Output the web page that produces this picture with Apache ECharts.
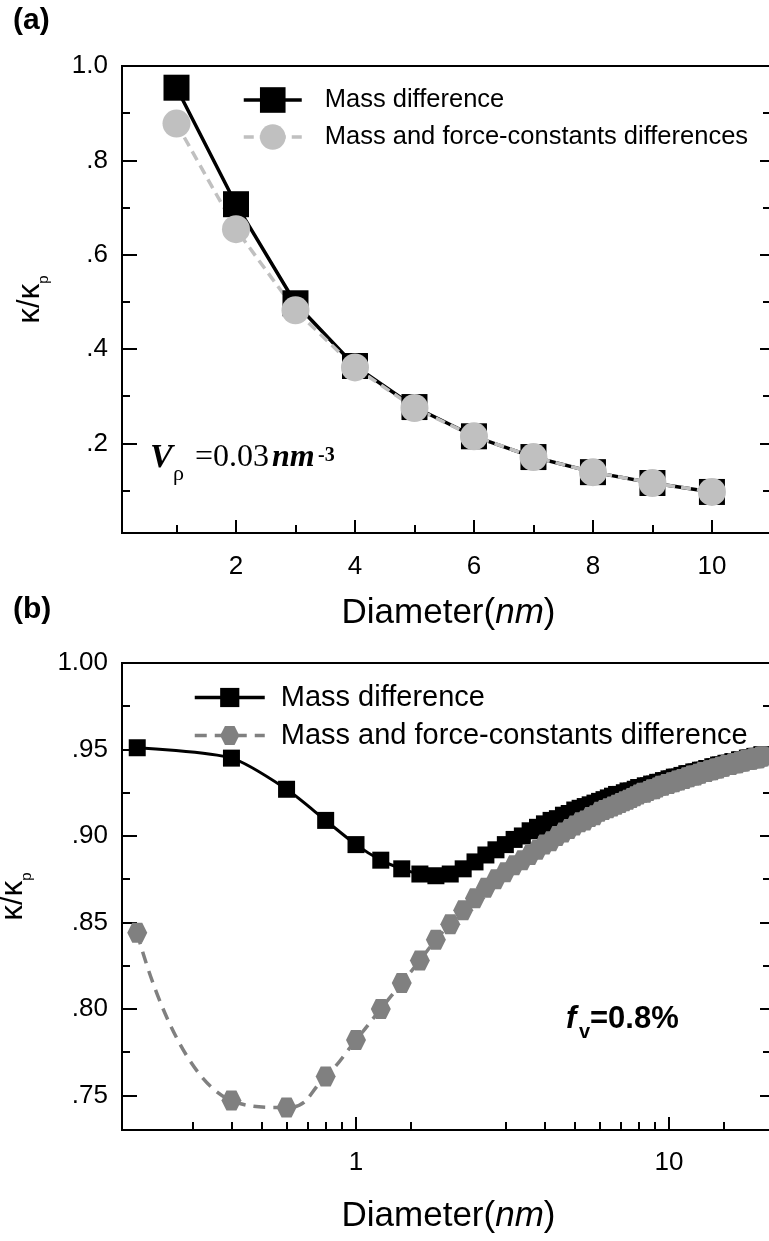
<!DOCTYPE html>
<html>
<head>
<meta charset="utf-8">
<script src="https://cdn.jsdelivr.net/npm/echarts@6/dist/echarts.min.js"></script>
<style>
  html, body { margin: 0; padding: 0; background: #fff; }
  #chart { width: 769px; height: 1241px; }
</style>
</head>
<body>
<div id="chart"></div>
<script>
// ---- panel (a): linear diameter axis ----
const diamA = [1, 2, 3, 4, 5, 6, 7, 8, 9, 10];
const massA = [0.954, 0.707, 0.497, 0.364, 0.277, 0.215, 0.171, 0.139, 0.116, 0.097];
const massForceA = [0.878, 0.654, 0.482, 0.361, 0.275, 0.215, 0.171, 0.139, 0.116, 0.097];
const xMajorA = [2, 4, 6, 8, 10];
const xMinorA = [1, 3, 5, 7, 9];
const yMajorA = [0.2, 0.4, 0.6, 0.8, 1.0];
const yMinorA = [0.1, 0.3, 0.5, 0.7, 0.9];

// ---- panel (b): log diameter axis ----
const diamB = [
  0.2, 0.4, 0.6, 0.8, 1.0, 1.2, 1.4, 1.6, 1.8, 2.0,
  2.2, 2.4, 2.6, 2.8, 3.0, 3.2, 3.4, 3.6, 3.8, 4.0,
  4.2, 4.4, 4.6, 4.8, 5.0, 5.2, 5.4, 5.6, 5.8, 6.0,
  6.2, 6.4, 6.6, 6.8, 7.0, 7.2, 7.4, 7.6, 7.8, 8.0,
  8.2, 8.4, 8.6, 8.8, 9.0, 9.2, 9.4, 9.6, 9.8, 10.0,
  10.2, 10.4, 10.6, 10.8, 11.0, 11.2, 11.4, 11.6, 11.8, 12.0,
  12.2, 12.4, 12.6, 12.8, 13.0, 13.2, 13.4, 13.6, 13.8, 14.0,
  14.2, 14.4, 14.6, 14.8, 15.0, 15.2, 15.4, 15.6, 15.8, 16.0,
  16.2, 16.4, 16.6, 16.8, 17.0, 17.2, 17.4, 17.6, 17.8, 18.0,
  18.2, 18.4, 18.6, 18.8, 19.0, 19.2, 19.4, 19.6, 19.8, 20.0
];
const massB = [
  0.951, 0.945, 0.927, 0.909, 0.895, 0.886, 0.881, 0.878, 0.877, 0.878,
  0.881, 0.885, 0.889, 0.892, 0.895, 0.898, 0.900, 0.903, 0.905, 0.907,
  0.909, 0.910, 0.912, 0.913, 0.915, 0.916, 0.917, 0.918, 0.919, 0.920,
  0.921, 0.922, 0.923, 0.924, 0.924, 0.925, 0.926, 0.926, 0.927, 0.928,
  0.928, 0.929, 0.929, 0.930, 0.930, 0.931, 0.931, 0.932, 0.932, 0.933,
  0.933, 0.934, 0.934, 0.934, 0.935, 0.935, 0.936, 0.936, 0.936, 0.937,
  0.937, 0.937, 0.938, 0.938, 0.938, 0.939, 0.939, 0.939, 0.940, 0.940,
  0.940, 0.941, 0.941, 0.941, 0.941, 0.942, 0.942, 0.942, 0.942, 0.943,
  0.943, 0.943, 0.943, 0.944, 0.944, 0.944, 0.944, 0.944, 0.945, 0.945,
  0.945, 0.945, 0.945, 0.946, 0.946, 0.946, 0.946, 0.946, 0.947, 0.947
];
const massForceB = [
  0.844, 0.747, 0.743, 0.761, 0.782, 0.800, 0.815, 0.828, 0.840, 0.849,
  0.857, 0.864, 0.870, 0.875, 0.879, 0.883, 0.886, 0.889, 0.892, 0.895,
  0.897, 0.900, 0.902, 0.904, 0.906, 0.908, 0.909, 0.911, 0.912, 0.914,
  0.915, 0.916, 0.917, 0.918, 0.919, 0.920, 0.921, 0.922, 0.923, 0.924,
  0.925, 0.925, 0.926, 0.927, 0.927, 0.928, 0.929, 0.929, 0.930, 0.930,
  0.931, 0.931, 0.932, 0.932, 0.933, 0.933, 0.934, 0.934, 0.935, 0.935,
  0.935, 0.936, 0.936, 0.937, 0.937, 0.937, 0.938, 0.938, 0.938, 0.939,
  0.939, 0.939, 0.940, 0.940, 0.940, 0.941, 0.941, 0.941, 0.941, 0.942,
  0.942, 0.942, 0.942, 0.943, 0.943, 0.943, 0.943, 0.944, 0.944, 0.944,
  0.944, 0.944, 0.945, 0.945, 0.945, 0.945, 0.945, 0.946, 0.946, 0.946
];
const xMajorB = [1, 10];
const xMinorB = [0.3, 0.4, 0.5, 0.6, 0.7, 0.8, 0.9, 1.5, 3, 4, 5, 6, 7, 8, 9, 15];
const yMajorB = [0.75, 0.80, 0.85, 0.90, 0.95, 1.00];
const yMinorB = [0.775, 0.825, 0.875, 0.925, 0.975];

const FONT = "'Liberation Sans', Arial, sans-serif";
const SERIF = "'Liberation Serif', 'Times New Roman', serif";
const HEX = 'path://M-10,0L-5,-8.66L5,-8.66L10,0L5,8.66L-5,8.66Z';

const chart = echarts.init(document.getElementById('chart'), null, { renderer: 'canvas' });

// axis carrying the line and the tick labels (no ticks)
const labelAxis = (base, values, labelOpt) => Object.assign({
  splitLine: { show: false },
  axisLine: { show: true, onZero: false, lineStyle: { color: '#000', width: 2 } },
  axisTick: { show: false },
  axisLabel: Object.assign({
    show: true, customValues: values, color: '#000', fontFamily: FONT, fontSize: 26
  }, labelOpt)
}, base);

// invisible overlay axis that only draws inward ticks
const tickAxis = (base, values, len) => Object.assign({
  splitLine: { show: false },
  axisLine: { show: false, onZero: false },
  axisLabel: { show: false },
  axisTick: { show: true, inside: true, length: len, customValues: values, lineStyle: { color: '#000', width: 2 } }
}, base);

const fmtA = (v) => v >= 1 ? '1.0' : v.toFixed(1).replace(/^0/, '');
const fmtB = (v) => v >= 1 ? '1.00' : v.toFixed(2).replace(/^0/, '');

const xA = { type: 'value', gridIndex: 0, position: 'bottom', min: 0.084, max: 11.06 };
const xB = { type: 'log', gridIndex: 1, position: 'bottom', min: 0.1788, max: 21.81 };
const yA = { type: 'value', gridIndex: 0, min: 0.01, max: 1.0 };
const yB = { type: 'value', gridIndex: 1, min: 0.73, max: 1.0 };
const at = (base, extra) => Object.assign({}, base, extra);

const xName = (gap) => ({
  name: 'Diameter({i|nm})',
  nameLocation: 'middle',
  nameGap: gap,
  nameTextStyle: {
    color: '#000', fontFamily: FONT, fontSize: 35,
    rich: { i: { fontStyle: 'italic', fontFamily: FONT, fontSize: 35, color: '#000' } }
  }
});
const yName = (gap) => ({
  name: '{k|κ/κ}{p|p}',
  nameLocation: 'middle',
  nameRotate: 90,
  nameGap: gap,
  nameTextStyle: {
    rich: {
      k: { fontFamily: FONT, fontSize: 31, color: '#000', lineHeight: 34 },
      p: { fontFamily: FONT, fontSize: 15, color: '#000', verticalAlign: 'bottom', lineHeight: 34, padding: [0, 0, -4, 0] }
    }
  }
});

const gridBase = { left: 122, width: 653, height: 467, show: true, borderColor: '#000', borderWidth: 2, outerBoundsMode: 'none', containLabel: false };

const option = {
  animation: false,
  backgroundColor: '#fff',
  grid: [
    Object.assign({ top: 66 }, gridBase),
    Object.assign({ top: 663 }, gridBase)
  ],
  xAxis: [
    labelAxis(at(xA, xName(63)), xMajorA, { margin: 21 }),
    tickAxis(at(xA), xMajorA, 13),
    tickAxis(at(xA), xMinorA, 8),
    labelAxis(at(xB, xName(69)), xMajorB, { margin: 20 }),
    tickAxis(at(xB), xMajorB, 13),
    tickAxis(at(xB), xMinorB, 8)
  ],
  yAxis: [
    labelAxis(at(yA, Object.assign({ position: 'left' }, yName(75))), yMajorA, { margin: 14, formatter: fmtA }),
    tickAxis(at(yA, { position: 'left' }), yMajorA, 15),
    tickAxis(at(yA, { position: 'left' }), yMinorA, 8),
    tickAxis(at(yA, { position: 'right' }), yMajorA, 15),
    tickAxis(at(yA, { position: 'right' }), yMinorA, 12),
    labelAxis(at(yB, Object.assign({ position: 'left' }, yName(92))), yMajorB, { margin: 14, formatter: fmtB }),
    tickAxis(at(yB, { position: 'left' }), yMajorB, 15),
    tickAxis(at(yB, { position: 'left' }), yMinorB, 8),
    tickAxis(at(yB, { position: 'right' }), yMajorB, 15),
    tickAxis(at(yB, { position: 'right' }), yMinorB, 12)
  ],
  legend: [
    {
      orient: 'vertical', left: 242, top: 84, padding: 0, itemWidth: 58, itemHeight: 32, itemGap: 5,
      selectedMode: false,
      data: ['Mass difference', 'Mass and force-constants differences'],
      formatter: (n) => n.split('#')[0],
      lineStyle: { width: 3.5 },
      textStyle: { color: '#000', fontFamily: FONT, fontSize: 25.5, lineHeight: 32, padding: [0, 0, 0, 18] }
    },
    {
      orient: 'vertical', left: 193, top: 683, padding: 0, itemWidth: 70, itemHeight: 24, itemGap: 9,
      selectedMode: false,
      data: ['Mass difference#b', 'Mass and force-constants difference#b'],
      formatter: (n) => n.split('#')[0],
      lineStyle: { width: 3.5 },
      textStyle: { color: '#000', fontFamily: FONT, fontSize: 29, lineHeight: 24, padding: [0, 0, 0, 11] }
    }
  ],
  series: [
    {
      name: 'Mass difference', type: 'line', xAxisIndex: 0, yAxisIndex: 0,
      data: diamA.map((d, i) => [d, massA[i]]),
      symbol: 'rect', symbolSize: 26,
      itemStyle: { color: '#000' },
      lineStyle: { color: '#000', width: 3.5 }
    },
    {
      name: 'Mass and force-constants differences', type: 'line', xAxisIndex: 0, yAxisIndex: 0,
      data: diamA.map((d, i) => [d, massForceA[i]]),
      symbol: 'circle', symbolSize: 28,
      itemStyle: { color: '#c0c0c0' },
      lineStyle: { color: '#c0c0c0', width: 3.5, type: [10, 6] }
    },
    {
      name: 'Mass difference#b', type: 'line', xAxisIndex: 3, yAxisIndex: 5,
      data: diamB.map((d, i) => [d, massB[i]]),
      symbol: 'rect', symbolSize: 17, smooth: 0.25,
      itemStyle: { color: '#000' },
      lineStyle: { color: '#000', width: 3 }
    },
    {
      name: 'Mass and force-constants difference#b', type: 'line', xAxisIndex: 3, yAxisIndex: 5,
      data: diamB.map((d, i) => [d, massForceB[i]]),
      symbol: HEX, symbolSize: 20, smooth: 0.5,
      itemStyle: { color: '#808080' },
      lineStyle: { color: '#808080', width: 3.5, type: [12, 8] }
    }
  ],
  graphic: [
    { type: 'text', x: 13, y: 21, style: { text: '(a)', fontFamily: FONT, fontWeight: 'bold', fontSize: 30, fill: '#000', verticalAlign: 'middle' } },
    { type: 'text', x: 13, y: 610, style: { text: '(b)', fontFamily: FONT, fontWeight: 'bold', fontSize: 30, fill: '#000', verticalAlign: 'middle' } },
    // V_rho = 0.03 nm^-3
    { type: 'text', x: 150, y: 458, style: { text: 'V', fontFamily: SERIF, fontWeight: 'bold', fontStyle: 'italic', fontSize: 34, fill: '#000', verticalAlign: 'middle' } },
    { type: 'text', x: 173, y: 474, style: { text: 'ρ', fontFamily: SERIF, fontSize: 22, fill: '#000', verticalAlign: 'middle' } },
    { type: 'text', x: 195, y: 458, style: { text: '=0.03', fontFamily: SERIF, fontSize: 32, fill: '#000', verticalAlign: 'middle' } },
    { type: 'text', x: 272, y: 458, style: { text: 'nm', fontFamily: SERIF, fontWeight: 'bold', fontStyle: 'italic', fontSize: 32, fill: '#000', verticalAlign: 'middle' } },
    { type: 'text', x: 318, y: 456, style: { text: '-3', fontFamily: SERIF, fontWeight: 'bold', fontSize: 20, fill: '#000', verticalAlign: 'middle' } },
    // f_v = 0.8%
    { type: 'text', x: 566, y: 1019, style: { text: 'f', fontFamily: FONT, fontWeight: 'bold', fontStyle: 'italic', fontSize: 31, fill: '#000', verticalAlign: 'middle' } },
    { type: 'text', x: 579, y: 1032, style: { text: 'v', fontFamily: FONT, fontWeight: 'bold', fontSize: 20, fill: '#000', verticalAlign: 'middle' } },
    { type: 'text', x: 590, y: 1019, style: { text: '=0.8%', fontFamily: FONT, fontWeight: 'bold', fontSize: 31, fill: '#000', verticalAlign: 'middle' } }
  ]
};

chart.setOption(option);
</script>
</body>
</html>
